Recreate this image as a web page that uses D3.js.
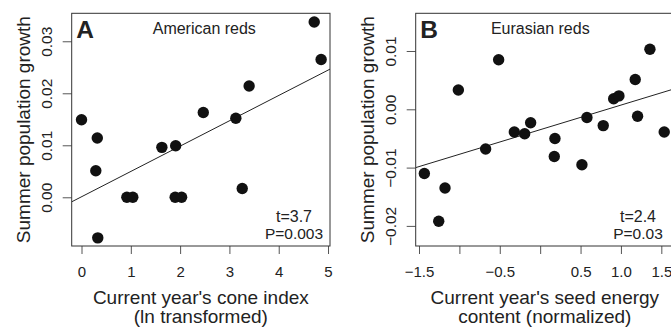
<!DOCTYPE html>
<html><head><meta charset="utf-8">
<script src="https://cdn.jsdelivr.net/npm/d3@7"></script>
<style>
body{margin:0;background:#fff}
text{font-family:"Liberation Sans",Arial,Helvetica,sans-serif;fill:#222}
</style>
</head><body><svg id="c" width="671" height="327"></svg>
<script>
// ---- data ----
const americanX = [0.00, 0.32, 0.29, 0.33, 0.92, 1.04, 1.63, 1.91, 1.90, 2.03, 2.47, 3.13, 3.26, 3.40, 4.72, 4.86];
const americanY = [0.0149, 0.0114, 0.0051, -0.0078, 0.0000, 0.0000, 0.0096, 0.0099, 0.0000, 0.0000, 0.0163, 0.0152, 0.0017, 0.0214, 0.0337, 0.0265];
const eurasianX = [-1.434, -1.256, -1.178, -1.013, -0.675, -0.514, -0.320, -0.192, -0.118, 0.175, 0.183, 0.517, 0.579, 0.781, 0.910, 0.975, 1.177, 1.206, 1.359, 1.536];
const eurasianY = [-0.0110, -0.0192, -0.0135, 0.0033, -0.0068, 0.0085, -0.0039, -0.0042, -0.0023, -0.0081, -0.0050, -0.0095, -0.0014, -0.0028, 0.0018, 0.0023, 0.0051, -0.0012, 0.0103, -0.0039];
const americanFit = [0.0001, 0.00487];   // intercept, slope
const eurasianFit = [-0.0035, 0.00422];  // intercept, slope
const americanXTicks = [0, 1, 2, 3, 4, 5];
const americanXTickLabels = ["0", "1", "2", "3", "4", "5"];
const americanYTicks = [0, 0.01, 0.02, 0.03];
const americanYTickLabels = ["0.00", "0.01", "0.02", "0.03"];
const eurasianXTicks = [-1.5, -1, -0.5, 0, 0.5, 1, 1.5];
const eurasianXTickLabels = ["\u22121.5", "", "\u22120.5", "", "0.5", "1.0", "1.5"];
const eurasianYTicks = [-0.02, -0.01, 0, 0.01];
const eurasianYTickLabels = ["\u22120.02", "\u22120.01", "0.00", "0.01"];
const panelLetters = ["A", "B"];
const panelTitles = ["American reds", "Eurasian reds"];
const statT = ["t=3.7", "t=2.4"];
const statP = ["P=0.003", "P=0.03"];
const yTitle = "Summer population growth";
const xTitlesA = ["Current year's cone index", "(ln transformed)"];
const xTitlesB = ["Current year's seed energy", "content (normalized)"];

const svg = d3.select("#c");

const panels = [
  {left:71.7, top:13.3, right:330, bottom:246, xd:[-0.199,5.04], yd:[-0.009365,0.03538],
   xs:americanX, ys:americanY, fit:americanFit, xt:americanXTicks, xtl:americanXTickLabels,
   yt:americanYTicks, ytl:americanYTickLabels, letter:panelLetters[0], title:panelTitles[0],
   t:statT[0], p:statP[0], xtitle:xTitlesA, titleDx:132.6},
  {left:415.7, top:13.3, right:674, bottom:246, xd:[-1.541,1.657], yd:[-0.023448,0.016466],
   xs:eurasianX, ys:eurasianY, fit:eurasianFit, xt:eurasianXTicks, xtl:eurasianXTickLabels,
   yt:eurasianYTicks, ytl:eurasianYTickLabels, letter:panelLetters[1], title:panelTitles[1],
   t:statT[1], p:statP[1], xtitle:xTitlesB, titleDx:124.6}
];

panels.forEach((P, i) => {
  const x = d3.scaleLinear().domain(P.xd).range([P.left, P.right]);
  const y = d3.scaleLinear().domain(P.yd).range([P.bottom, P.top]);
  const g = svg.append("g");
  const clipId = "clip" + i;
  svg.append("clipPath").attr("id", clipId).append("rect")
    .attr("x", P.left).attr("y", P.top).attr("width", P.right - P.left).attr("height", P.bottom - P.top);

  // axes
  const xa = g.append("g").attr("transform", `translate(0,${P.bottom})`)
    .call(d3.axisBottom(x).tickValues(P.xt).tickSize(8).tickSizeOuter(0).tickFormat((d, k) => P.xtl[k]));
  xa.select(".domain").remove();
  xa.selectAll("line").attr("stroke", "#555");
  xa.selectAll("text").attr("font-size", 15).attr("dy", null).attr("y", 31).style("fill", "#222");

  const ya = g.append("g").attr("transform", `translate(${P.left},0)`)
    .call(d3.axisLeft(y).tickValues(P.yt).tickSize(9).tickSizeOuter(0).tickFormat((d, k) => P.ytl[k]));
  ya.select(".domain").remove();
  ya.selectAll("line").attr("stroke", "#555");
  ya.selectAll("text").attr("font-size", 15.5).attr("dy", null).attr("x", null)
    .attr("text-anchor", "middle").attr("transform", "translate(-20,0) rotate(-90)").style("fill", "#222");

  // box
  g.append("rect").attr("x", P.left).attr("y", P.top).attr("width", P.right - P.left)
    .attr("height", P.bottom - P.top).attr("fill", "none").attr("stroke", "#333").attr("stroke-width", 1);

  // regression line
  g.append("line").attr("clip-path", `url(#${clipId})`)
    .attr("x1", x(P.xd[0])).attr("y1", y(P.fit[0] + P.fit[1] * P.xd[0]))
    .attr("x2", x(P.xd[1])).attr("y2", y(P.fit[0] + P.fit[1] * P.xd[1]))
    .attr("stroke", "#222").attr("stroke-width", 1);

  // points
  g.selectAll("circle.pt").data(P.xs.map((v, k) => [v, P.ys[k]])).enter().append("circle")
    .attr("cx", d => x(d[0])).attr("cy", d => y(d[1])).attr("r", 5.7).attr("fill", "#111");

  // labels
  g.append("text").attr("x", P.left + 4.5).attr("y", P.top + 25).attr("font-size", 24.5)
    .attr("font-weight", "bold").text(P.letter);
  g.append("text").attr("x", P.left + P.titleDx).attr("y", P.top + 20.5).attr("font-size", 16)
    .attr("text-anchor", "middle").text(P.title);
  g.append("text").attr("x", P.right - 36).attr("y", 221.7).attr("font-size", 16)
    .attr("text-anchor", "middle").text(P.t);
  g.append("text").attr("x", P.right - 36).attr("y", 239.3).attr("font-size", 15.5)
    .attr("text-anchor", "middle").text(P.p);

  // titles
  const cx = (P.left + P.right) / 2;
  g.append("text").attr("x", cx).attr("y", 303.5).attr("font-size", 19)
    .attr("text-anchor", "middle").text(P.xtitle[0]);
  g.append("text").attr("x", cx).attr("y", 322.5).attr("font-size", 19)
    .attr("text-anchor", "middle").text(P.xtitle[1]);
  g.append("text").attr("transform", `translate(${P.left - 42},${(P.top + P.bottom) / 2}) rotate(-90)`)
    .attr("font-size", 19).attr("text-anchor", "middle").text(yTitle);
});
</script></body></html>
